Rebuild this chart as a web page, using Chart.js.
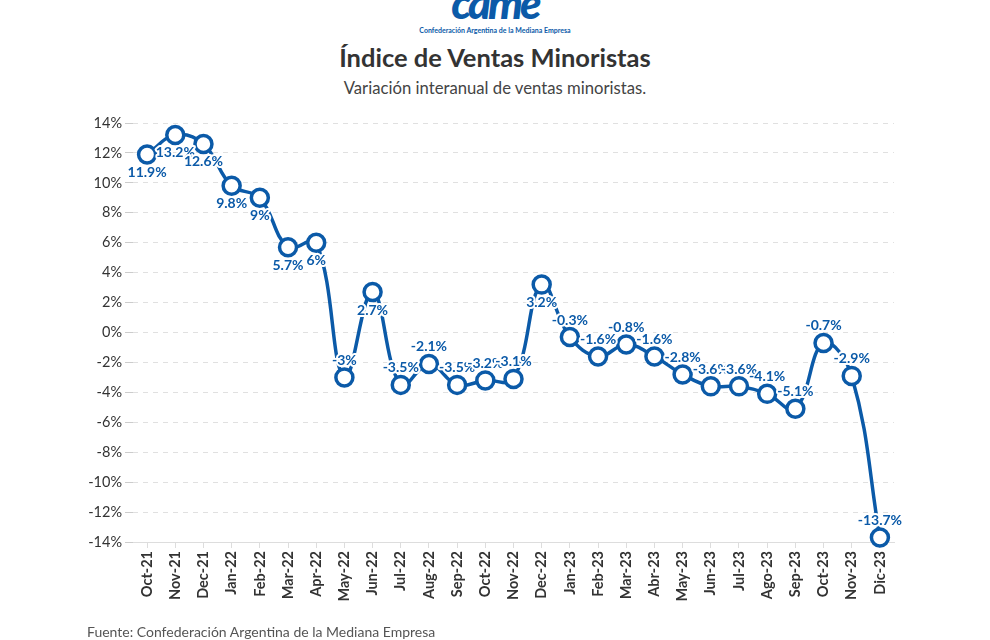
<!DOCTYPE html>
<html>
<head>
<meta charset="utf-8">
<script src="https://cdn.jsdelivr.net/npm/chart.js@4"></script>
<style>
  body { margin: 0; background: #fff; font-family: Lato, sans-serif; }
  #wrap { position: relative; width: 990px; height: 640px; overflow: hidden; }
  #chart { position: absolute; left: 0; top: 0; }
  .logo { position: absolute; left: 0; width: 990px; text-align: center; color: #0b5aa8; }
  #logo-big { top: -24px; font: italic 900 44px Lato, sans-serif; letter-spacing: -3px; }
  #logo-small { top: 26px; font: bold 7px Lato, sans-serif; }
  #title { position: absolute; top: 42px; width: 990px; text-align: center; font: bold 25.5px Lato, sans-serif; color: #333; }
  #subtitle { position: absolute; top: 78px; width: 990px; text-align: center; font: 16.7px Lato, sans-serif; color: #444; }
  #source { position: absolute; left: 87px; top: 623px; font: 14px Lato, sans-serif; color: #555; }
</style>
</head>
<body>
<div id="wrap">
  <div class="logo" id="logo-big">came</div>
  <div class="logo" id="logo-small">Confederación Argentina de la Mediana Empresa</div>
  <div id="title">Índice de Ventas Minoristas</div>
  <div id="subtitle">Variación interanual de ventas minoristas.</div>
  <canvas id="chart" width="990" height="640"></canvas>
  <div id="source">Fuente: Confederación Argentina de la Mediana Empresa</div>
</div>
<script>
// 月ラベル
const months = ['Oct-21', 'Nov-21', 'Dec-21', 'Jan-22', 'Feb-22', 'Mar-22', 'Apr-22', 'May-22', 'Jun-22',
  'Jul-22', 'Aug-22', 'Sep-22', 'Oct-22', 'Nov-22', 'Dec-22', 'Jan-23', 'Feb-23', 'Mar-23', 'Abr-23',
  'May-23', 'Jun-23', 'Jul-23', 'Ago-23', 'Sep-23', 'Oct-23', 'Nov-23', 'Dic-23'];

// 前年比 (%)
const ventas = [11.9, 13.2, 12.6, 9.8, 9, 5.7, 6, -3, 2.7, -3.5, -2.1, -3.5, -3.2, -3.1, 3.2,
  -0.3, -1.6, -0.8, -1.6, -2.8, -3.6, -3.6, -4.1, -5.1, -0.7, -2.9, -13.7];

const blue = '#0b5aa8';

// データラベル描画
const labelPlugin = {
  id: 'valueLabels',
  afterDatasetsDraw(chart) {
    const ctx = chart.ctx;
    const meta = chart.getDatasetMeta(0);
    ctx.save();
    ctx.font = 'bold 14px Lato, sans-serif';
    ctx.textAlign = 'center';
    ctx.textBaseline = 'middle';
    ctx.lineJoin = 'round';
    meta.data.forEach((pt, i) => {
      const v = ventas[i];
      const text = v + '%';
      const y = v >= 0 ? pt.y + 18 : pt.y - 17;
      ctx.strokeStyle = '#fff';
      ctx.lineWidth = 4;
      ctx.strokeText(text, pt.x, y);
      ctx.fillStyle = blue;
      ctx.fillText(text, pt.x, y);
    });
    ctx.restore();
  }
};

new Chart(document.getElementById('chart'), {
  type: 'line',
  data: {
    labels: months,
    datasets: [{
      data: ventas,
      clip: false,
      borderColor: blue,
      borderWidth: 3.5,
      tension: 0.4,
      pointRadius: 8.5,
      pointBorderWidth: 3.5,
      pointBackgroundColor: '#fff',
      pointBorderColor: blue
    }]
  },
  options: {
    responsive: false,
    animation: false,
    layout: { padding: { left: 73, right: 96, top: 123, bottom: 38 } },
    plugins: { legend: { display: false }, tooltip: { enabled: false } },
    scales: {
      x: {
        offset: true,
        afterFit(scale) { scale.height = 60; },
        grid: { drawOnChartArea: false, drawTicks: true, tickLength: 6, color: '#ddd' },
        border: { display: true, color: '#ddd' },
        ticks: {
          maxRotation: 90, minRotation: 90, autoSkip: false,
          color: '#333', font: { family: 'Lato', size: 14.5, weight: 'bold' }
        }
      },
      y: {
        min: -14, max: 14,
        afterFit(scale) { scale.width = 60; },
        grid: { color: '#e0e0e0', tickColor: '#ccc', tickLength: 8, tickBorderDash: [] },
        border: { display: false, dash: [5, 5] },
        ticks: {
          stepSize: 2,
          color: '#333',
          font: { family: 'Lato', size: 14.5 },
          callback: v => v + '%'
        }
      }
    }
  },
  plugins: [labelPlugin]
});
</script>
</body>
</html>
